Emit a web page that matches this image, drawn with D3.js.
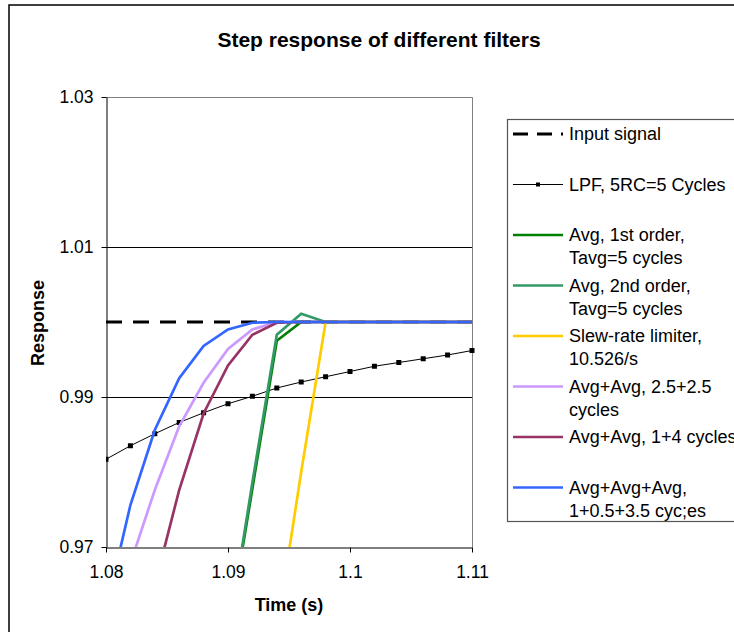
<!DOCTYPE html>
<html>
<head>
	<title>Step response of different filters</title>
	<style>
	body {
	  margin: 0;
	  background: #fff;
	  font-family: "Liberation Sans", Arial, sans-serif;
	}
	svg text {
	  fill: #000;
	}
	</style>
	<script src="https://cdnjs.cloudflare.com/ajax/libs/d3/7.8.5/d3.min.js"></script>
</head>
<body>
	<script>
		// sample times (s), one sample every 2 ms
		var times = [1.080, 1.082, 1.084, 1.086, 1.088, 1.090, 1.092, 1.094,
			1.096, 1.098, 1.100, 1.102, 1.104, 1.106, 1.108, 1.110];

		var inputSignal = [1, 1, 1, 1, 1, 1, 1, 1, 1, 1, 1, 1, 1, 1, 1, 1];
		var lpf = [0.9817, 0.9835, 0.9851, 0.9866, 0.9879, 0.9891, 0.9901, 0.9912,
			0.9920, 0.9927, 0.9934, 0.9941, 0.9946, 0.9951, 0.9956, 0.9962];
		var avg1st = [null, null, null, null, null, 0.9581, 0.9778, 0.9975,
			1, 1, 1, 1, 1, 1, 1, 1];
		var avg2nd = [null, null, null, null, null, 0.9581, 0.9786, 0.9983,
			1.0011, 1, 1, 1, 1, 1, 1, 1];
		var slewRate = [null, null, null, null, null, null, null, 0.9589,
			0.9800, 1, 1, 1, 1, 1, 1, 1];
		var avgAvg25 = [null, 0.9678, 0.9776, 0.9861, 0.9919, 0.9964, 0.9990, 1,
			1, 1, 1, 1, 1, 1, 1, 1];
		var avgAvg14 = [null, null, 0.9649, 0.9776, 0.9878, 0.9942, 0.9983, 0.9999,
			1, 1, 1, 1, 1, 1, 1, 1];
		var avgAvgAvg = [0.9616, 0.9756, 0.9856, 0.9925, 0.9968, 0.9990, 0.9999, 1,
			1, 1, 1, 1, 1, 1, 1, 1];

		var xTicks = [1.08, 1.09, 1.1, 1.11];
		var yTicks = [0.97, 0.99, 1.01, 1.03];

		var series = [
			{name: ["Input signal"], values: inputSignal, color: "#000", width: 3, dash: "16,11"},
			{name: ["LPF, 5RC=5 Cycles"], values: lpf, color: "#000", width: 1, marker: true},
			{name: ["Avg, 1st order,", "Tavg=5 cycles"], values: avg1st, color: "#008000", width: 2.7},
			{name: ["Avg, 2nd order,", "Tavg=5 cycles"], values: avg2nd, color: "#339966", width: 2.7},
			{name: ["Slew-rate limiter,", "10.526/s"], values: slewRate, color: "#FFCC00", width: 2.7},
			{name: ["Avg+Avg, 2.5+2.5", "cycles"], values: avgAvg25, color: "#CC99FF", width: 2.7},
			{name: ["Avg+Avg, 1+4 cycles"], values: avgAvg14, color: "#993366", width: 2.7},
			{name: ["Avg+Avg+Avg,", "1+0.5+3.5 cyc;es"], values: avgAvgAvg, color: "#3366FF", width: 2.7}
		];

		var plot = {left: 106, right: 472, top: 97, bottom: 547};

		var svg = d3.select("body").append("svg")
			.attr("width", 734)
			.attr("height", 632);

		// outer chart frame
		svg.append("rect")
			.attr("x", 9)
			.attr("y", 5)
			.attr("width", 760)
			.attr("height", 660)
			.attr("fill", "#fff")
			.attr("stroke", "#000")
			.attr("stroke-width", 1.5);

		var x = d3.scaleLinear()
			.domain([1.08, 1.11])
			.range([plot.left, plot.right]);

		var y = d3.scaleLinear()
			.domain([0.97, 1.03])
			.range([plot.bottom, plot.top]);

		// gridlines
		svg.append("g")
			.selectAll("line")
			.data(yTicks.slice(1, 3))
			.enter().append("line")
			.attr("x1", plot.left)
			.attr("x2", plot.right)
			.attr("y1", function(d) { return Math.round(y(d)) + 0.5; })
			.attr("y2", function(d) { return Math.round(y(d)) + 0.5; })
			.attr("stroke", "#000")
			.attr("stroke-width", 1);

		// gray top/right border of plot area
		svg.append("path")
			.attr("d", "M" + plot.left + "," + (plot.top + 0.5) + "H" + (plot.right + 0.5) + "V" + plot.bottom)
			.attr("fill", "none")
			.attr("stroke", "#808080")
			.attr("stroke-width", 1);

		var xAxis = svg.append("g")
			.attr("transform", "translate(0," + (plot.bottom + 0.5) + ")")
			.call(d3.axisBottom(x)
				.tickValues(xTicks)
				.tickSize(5)
				.tickSizeOuter(0)
				.tickFormat(function(d) { return String(+d.toFixed(2)); }));

		var yAxis = svg.append("g")
			.attr("transform", "translate(" + (plot.left + 0.5) + ",0)")
			.call(d3.axisLeft(y)
				.tickValues(yTicks)
				.tickSize(5)
				.tickSizeOuter(0)
				.tickFormat(d3.format(".2f")));

		svg.selectAll(".domain").attr("stroke", "#000");
		svg.selectAll(".tick line").attr("stroke", "#000");
		xAxis.selectAll("text")
			.attr("font-size", 17.5)
			.attr("font-family", "Liberation Sans, Arial, sans-serif")
			.attr("fill", "#000")
			.attr("dy", null)
			.attr("y", 30);
		yAxis.selectAll("text")
			.attr("font-size", 17.5)
			.attr("font-family", "Liberation Sans, Arial, sans-serif")
			.attr("fill", "#000")
			.attr("x", -13);

		svg.append("clipPath")
			.attr("id", "plotclip")
			.append("rect")
			.attr("x", plot.left)
			.attr("y", plot.top)
			.attr("width", plot.right - plot.left + 6)
			.attr("height", plot.bottom - plot.top);

		var line = d3.line()
			.defined(function(d) { return d.v !== null; })
			.x(function(d) { return x(d.t); })
			.y(function(d) { return y(d.v); });

		var lines = svg.append("g").attr("clip-path", "url(#plotclip)");

		series.forEach(function(s) {
			var pts = times.map(function(t, i) { return {t: t, v: s.values[i]}; });
			lines.append("path")
				.datum(pts)
				.attr("fill", "none")
				.attr("stroke", s.color)
				.attr("stroke-width", s.width)
				.attr("stroke-dasharray", s.dash || null)
				.attr("stroke-linejoin", "miter")
				.attr("d", line);
			if (s.marker) {
				lines.selectAll(null)
					.data(pts)
					.enter().append("rect")
					.attr("x", function(d) { return x(d.t) - 2.5; })
					.attr("y", function(d) { return y(d.v) - 2.5; })
					.attr("width", 5)
					.attr("height", 5)
					.attr("fill", "#000");
			}
		});

		// title and axis labels
		svg.append("text")
			.attr("x", 379)
			.attr("y", 47)
			.attr("text-anchor", "middle")
			.attr("font-size", 21)
			.attr("font-weight", "bold")
			.text("Step response of different filters");

		svg.append("text")
			.attr("x", 289)
			.attr("y", 611)
			.attr("text-anchor", "middle")
			.attr("font-size", 18)
			.attr("font-weight", "bold")
			.text("Time (s)");

		svg.append("text")
			.attr("transform", "translate(44,323) rotate(-90)")
			.attr("text-anchor", "middle")
			.attr("font-size", 18)
			.attr("font-weight", "bold")
			.text("Response");

		// legend
		var legend = svg.append("g");
		legend.append("rect")
			.attr("x", 507.5)
			.attr("y", 119.5)
			.attr("width", 300)
			.attr("height", 402)
			.attr("fill", "#fff")
			.attr("stroke", "#555")
			.attr("stroke-width", 1.2);

		series.forEach(function(s, i) {
			var base = 140 + i * 50.5;
			var g = legend.append("g");
			g.append("line")
				.attr("x1", 513)
				.attr("x2", 563)
				.attr("y1", base - 6)
				.attr("y2", base - 6)
				.attr("stroke", s.color)
				.attr("stroke-width", s.width)
				.attr("stroke-dasharray", s.dash ? "15,9" : null);
			if (s.marker) {
				g.append("rect")
					.attr("x", 536)
					.attr("y", base - 8)
					.attr("width", 4)
					.attr("height", 4)
					.attr("fill", "#000");
			}
			s.name.forEach(function(txt, j) {
				g.append("text")
					.attr("x", 569)
					.attr("y", base + j * 23)
					.attr("font-size", 18)
					.text(txt);
			});
		});
	</script>
</body>
</html>
